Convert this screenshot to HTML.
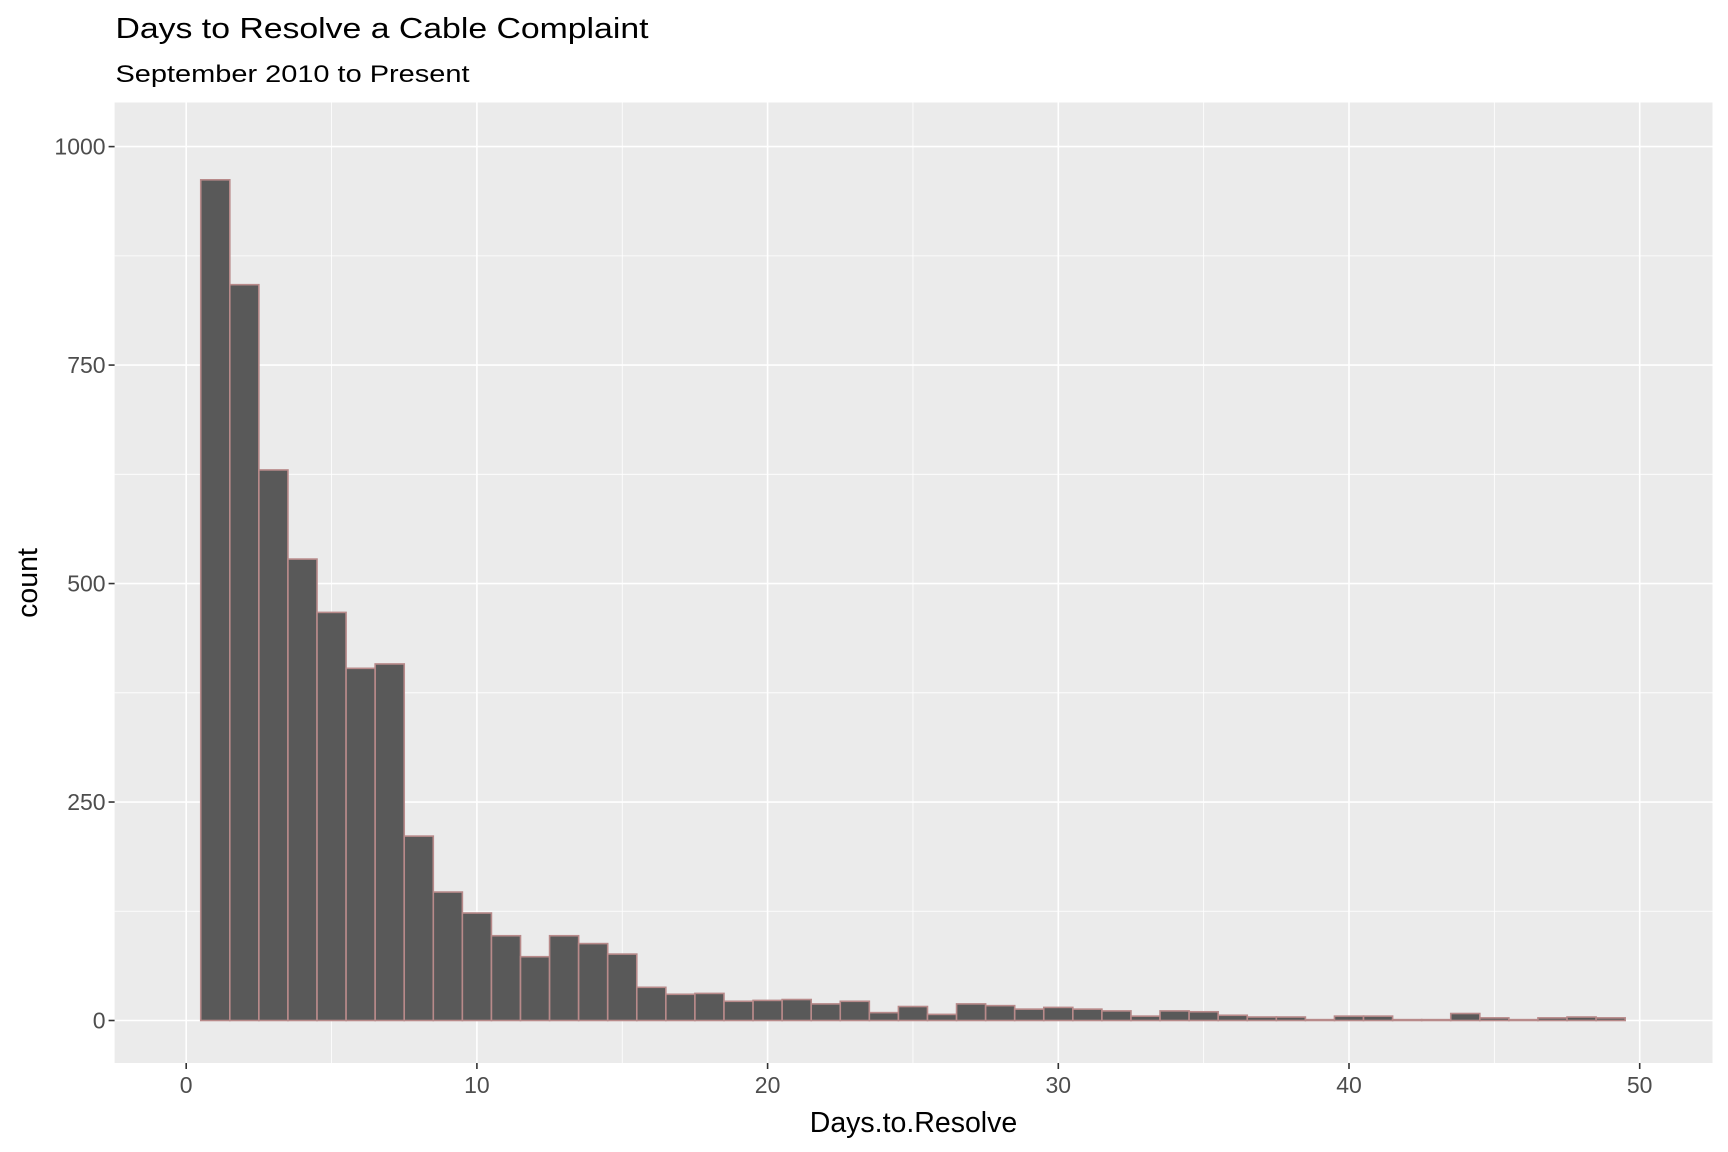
<!DOCTYPE html>
<html><head><meta charset="utf-8"><style>
html,body{margin:0;padding:0;background:#fff;}
svg{display:block;font-family:"Liberation Sans",Arial,sans-serif;}
</style></head><body>
<svg id="chart" width="1728" height="1152" viewBox="0 0 1728 1152" xmlns="http://www.w3.org/2000/svg">
<text x="115.5" y="38" font-size="29" fill="#000" textLength="533" lengthAdjust="spacingAndGlyphs">Days to Resolve a Cable Complaint</text>
<text x="115.5" y="82" font-size="24" fill="#000" textLength="354" lengthAdjust="spacingAndGlyphs">September 2010 to Present</text>
<rect x="114.6" y="102.5" width="1597.9" height="960.5" fill="#EBEBEB"/>
<g id="grid"></g>
<g id="bars"></g>
<g id="axes"></g>
<text x="913.5" y="1132" font-size="28.5" text-anchor="middle" fill="#000">Days.to.Resolve</text>
<text transform="translate(37,583) rotate(-90)" font-size="28.5" text-anchor="middle" fill="#000">count</text>
</svg>
<script>
const binCenters = [1,2,3,4,5,6,7,8,9,10,11,12,13,14,15,16,17,18,19,20,21,22,23,24,25,26,27,28,29,30,31,32,33,34,35,36,37,38,39,40,41,42,43,44,45,46,47,48,49];
const counts = [962,842,630,528,467,403,408,211,147,123,97,73,97,88,76,38,30,31,22,23,24,19,22,9,16,7,19,17,13,15,13,11,5,11,10,6,4,4,1,5,5,1,1,8,3,1,3,4,3];
const xTicks = [0,10,20,30,40,50];
const xMinor = [5,15,25,35,45];
const yTicks = [0,250,500,750,1000];
const yMinor = [125,375,625,875];
const binWidth = 1;

const NS = "http://www.w3.org/2000/svg";
const X0 = 186.2, XS = 29.07, Y0 = 1020.5, YS = 0.8739;
const PL = 114.6, PR = 1712.5, PT = 102.5, PB = 1063;
function xs(v){ return X0 + v*XS; }
function ys(v){ return Y0 - v*YS; }
function mk(tag, attrs, parent){ const e=document.createElementNS(NS,tag); for(const k in attrs) e.setAttribute(k,attrs[k]); parent.appendChild(e); return e; }

const grid = document.getElementById('grid');
yMinor.forEach(v=>{
  const l = mk('line',{x1:PL,x2:PR,y1:ys(v),y2:ys(v),stroke:'#fff','stroke-width':0.8},grid);
  
  
});
xMinor.forEach(v=>{
  const l = mk('line',{x1:xs(v),x2:xs(v),y1:PT,y2:PB,stroke:'#fff','stroke-width':0.8},grid);
  
  
});
yTicks.forEach(v=>{
  const l = mk('line',{x1:PL,x2:PR,y1:ys(v),y2:ys(v),stroke:'#fff','stroke-width':1.6},grid);
  
  
});
xTicks.forEach(v=>{
  const l = mk('line',{x1:xs(v),x2:xs(v),y1:PT,y2:PB,stroke:'#fff','stroke-width':1.6},grid);
  
  
});

const bars = document.getElementById('bars');
binCenters.forEach((c,i)=>{
  const x1 = xs(c-binWidth/2), x2 = xs(c+binWidth/2);
  const y = ys(counts[i]);
  const r = mk('rect',{x:x1,y:y,width:x2-x1,height:Y0-y,fill:'#595959',stroke:'#B88A8A','stroke-width':1.6},bars);
  
  
});

const axes = document.getElementById('axes');
xTicks.forEach(v=>{
  const t = mk('line',{x1:xs(v),x2:xs(v),y1:PB,y2:PB+6,stroke:'#333','stroke-width':1.6},axes);
  
  
  const tx = mk('text',{x:xs(v),y:PB+30,'font-size':23,'text-anchor':'middle',fill:'#4D4D4D'},axes);
  tx.textContent = v;
  
  
});
yTicks.forEach(v=>{
  const t = mk('line',{x1:PL-6,x2:PL,y1:ys(v),y2:ys(v),stroke:'#333','stroke-width':1.6},axes);
  
  
  const tx = mk('text',{x:PL-9,y:ys(v)+8,'font-size':23,'text-anchor':'end',fill:'#4D4D4D'},axes);
  tx.textContent = v;
  
  
});
</script>
</body></html>
